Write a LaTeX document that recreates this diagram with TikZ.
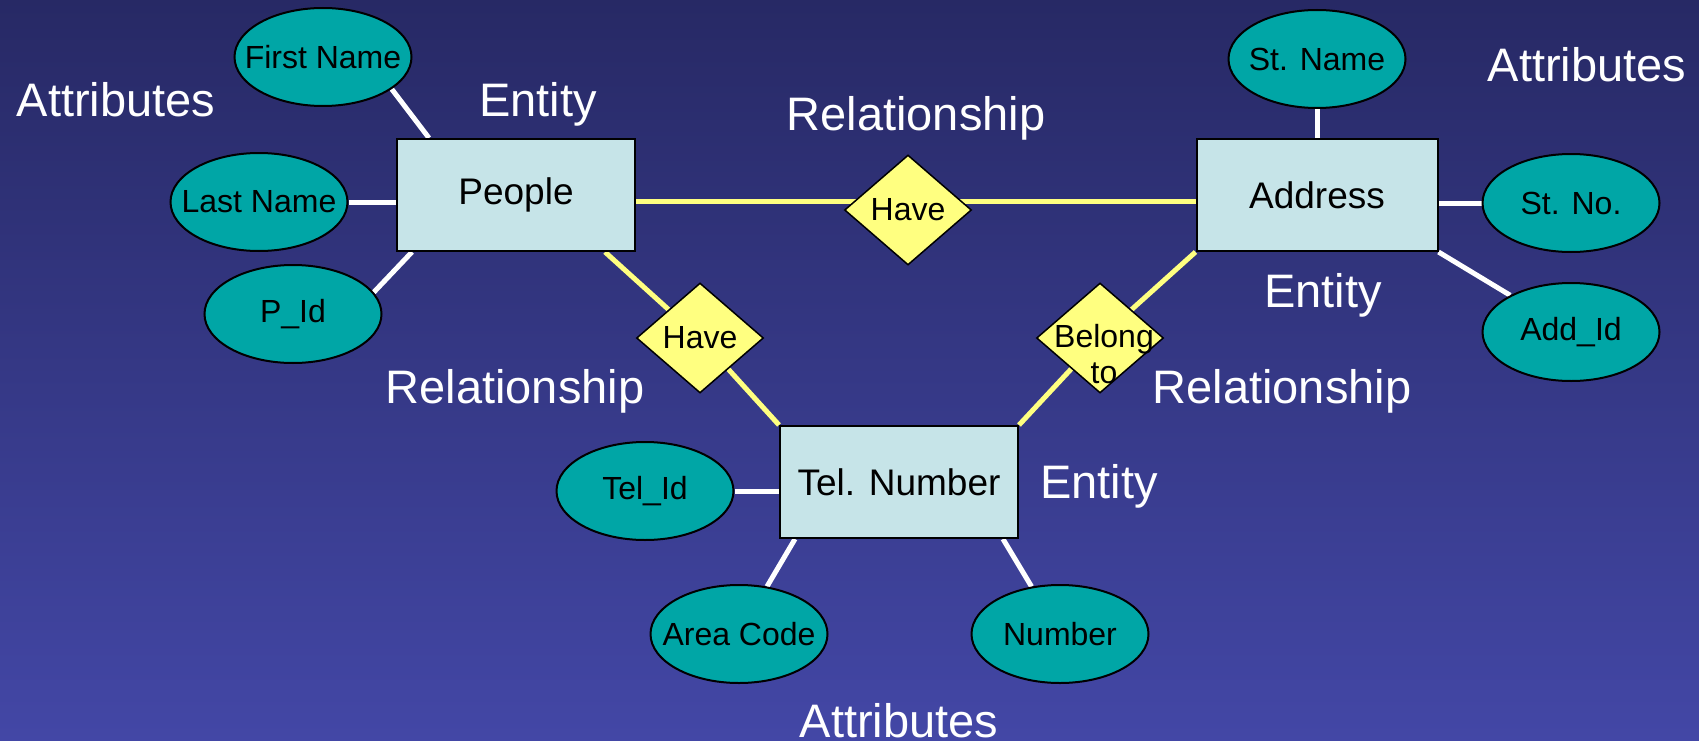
\documentclass[tikz,border=0pt]{standalone}
\usepackage{fontspec}
\setmainfont{Liberation Sans}
\usetikzlibrary{positioning, shapes.geometric, backgrounds}

\definecolor{bgtop}{RGB}{39,41,101}
\definecolor{bgbottom}{RGB}{67,71,166}
\definecolor{attrfill}{RGB}{0,166,166}
\definecolor{entfill}{RGB}{198,228,232}
\definecolor{relfill}{RGB}{255,255,128}

\tikzset{
  entity/.style={draw=black, line width=2pt, fill=entfill, minimum width=238pt, minimum height=112pt, font=\fontsize{37}{44}\selectfont},
  attr/.style={ellipse, draw=black, line width=2pt, fill=attrfill, minimum width=177pt, minimum height=98pt, inner xsep=-25pt, inner ysep=0pt, font=\fontsize{32}{38}\selectfont},
  relbox/.style={diamond, draw=black, line width=1.5pt, fill=relfill, minimum width=127pt, minimum height=110pt, inner sep=0pt, font=\fontsize{32}{36}\selectfont},
  erlabel/.style={text=white, anchor=base, inner sep=0pt, font=\fontsize{47}{56}\selectfont},
  attrlink/.style={draw=white, line width=5pt},
  rellink/.style={draw=relfill, line width=5pt},
}

\begin{document}
\begin{tikzpicture}[x=1pt, y=-1pt, on grid]
   \useasboundingbox (0,0) rectangle (1699,741);

   % Entities
   \node[entity] (people) at (516,195) {People};
   \node[entity, minimum width=241pt] (address) at (1317,195) {Address};
   \node[entity] (tel) at (899,482) {Tel. Number};

   % Attributes
   \node[attr] (first) [above left=138pt and 193pt of people] {First Name};
   \node[attr] (last) [below left=7pt and 257pt of people] {Last Name};
   \node[attr] (pid) [below left=119pt and 223pt of people] {P\_Id};
   \node[attr] (stname) [above=136pt of address] {St. Name};
   \node[attr] (stno) [below right=8pt and 254pt of address] {St. No.};
   \node[attr] (addid) [below right=137pt and 254pt of address] {Add\_Id};
   \node[attr] (telid) [below left=9pt and 254pt of tel] {Tel\_Id};
   \node[attr] (area) [below left=152pt and 160pt of tel] {Area Code};
   \node[attr] (number) [below right=152pt and 161pt of tel] {Number};

   % Relationships
   \node[relbox] (have) [below right=15pt and 392pt of people] {Have};
   \node[relbox] (have2) [below right=143pt and 184pt of people] {Have};
   \node[relbox] (belong) [below left=143pt and 217pt of address] {};
   \node[font=\fontsize{32}{36}\selectfont, align=center, xshift=4pt, yshift=-16pt] (belongtext) at (belong) {Belong\\to};

   % Labels
   \node[erlabel] (attrleft) at (116,117) {Attributes};
   \node[erlabel] (entpeople) at (538,117) {Entity};
   \node[erlabel] (relhave) at (916,131) {Relationship};
   \node[erlabel] (attrright) at (1587,82) {Attributes};
   \node[erlabel] (entaddress) at (1323,307) {Entity};
   \node[erlabel] (relhave2) at (515,403) {Relationship};
   \node[erlabel] (relbelong) at (1282,403) {Relationship};
   \node[erlabel] (enttel) at (1099,498) {Entity};
   \node[erlabel] (attrbottom) at (899,737) {Attributes};

   \begin{scope}[on background layer]
      \shade[top color=bgtop, bottom color=bgbottom] (0,0) rectangle (1699,741);
      % Relationship lines
      \draw[rellink] ([yshift=-6.5pt]people.east) -- ([yshift=-6.5pt]address.west);
      \draw[rellink] ([xshift=-31pt]people.south east) -- (have2) -- (tel.north west);
      \draw[rellink] (address.south west) -- (belong) -- (tel.north east);
      % Attribute lines
      \draw[attrlink] (first.-25) -- ([xshift=33pt]people.north west);
      \draw[attrlink] (last.east) -- (last.east -| people.west);
      \draw[attrlink] (pid.15) -- ([xshift=16pt]people.south west);
      \draw[attrlink] (stname.south) -- (stname.south |- address.north);
      \draw[attrlink] (stno.west) -- (stno.west -| address.east);
      \draw[attrlink] (addid) -- (address.south east);
      \draw[attrlink] (telid.east) -- (telid.east -| tel.west);
      \draw[attrlink] (area) -- ([xshift=16pt]tel.south west);
      \draw[attrlink] (number) -- ([xshift=-16pt]tel.south east);
   \end{scope}
\end{tikzpicture}
\end{document}
